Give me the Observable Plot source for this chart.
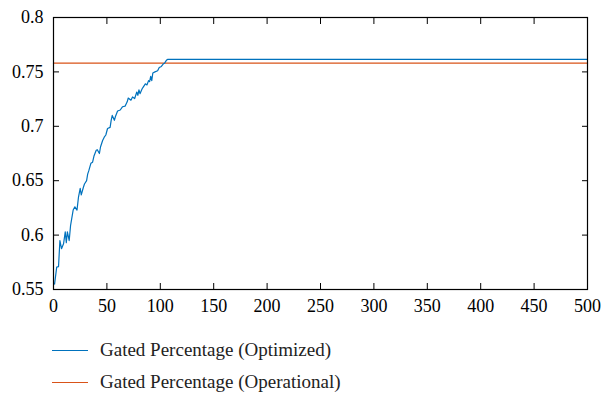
<!DOCTYPE html>
<html><head><meta charset="utf-8">
<script src="https://cdn.jsdelivr.net/npm/d3@7"></script>
<script src="https://cdn.jsdelivr.net/npm/@observablehq/plot@0.6"></script>
</head><body style="margin:0">
<div id="chart"></div>
<div id="legend" style="position:relative;height:78px;font-family:'Liberation Serif','DejaVu Serif',serif;font-size:19px;color:#222"></div>
<script>
const iterOpt = [1,3,4.7,6,7.5,9.4,11,12,13,14.7,16,18.4,20,22,23.4,25,26,28,29,31,32,33,35,36.6,38,40,41,43,44,46,47.5,49,50.6,53,54,55,57,58,60,62.5,64.7,67,69,70,72.5,74,76,78,79,80,81,83,84,86,87.5,89,90,91,92,93,95,97.5,99,101,103,104,106,107,500];
const valOpt = [0.555,0.5705,0.571,0.595,0.5875,0.592,0.603,0.593,0.603,0.595,0.609,0.623,0.626,0.623,0.635,0.643,0.637,0.644,0.647,0.65,0.656,0.659,0.666,0.667,0.673,0.678,0.6785,0.675,0.681,0.687,0.69,0.692,0.698,0.699,0.7055,0.71,0.7055,0.709,0.714,0.715,0.718,0.7185,0.7225,0.726,0.724,0.727,0.7255,0.7315,0.7285,0.7335,0.73,0.7345,0.736,0.739,0.738,0.742,0.741,0.746,0.742,0.749,0.75,0.751,0.754,0.755,0.7575,0.758,0.761,0.7615,0.7615];
const iterOper = [0, 500];
const valOper = [0.758, 0.758];
const xTicks = [0,50,100,150,200,250,300,350,400,450,500];
const yTicks = [0.55,0.6,0.65,0.7,0.75,0.8];
const yTickLabels = ["0.55","0.6","0.65","0.7","0.75","0.8"];
const seriesNames = ["Gated Percentage (Optimized)", "Gated Percentage (Operational)"];
const seriesColors = ["#0072BD", "#D95319"];

const opt = iterOpt.map((x, i) => ({x, y: valOpt[i]}));
const oper = iterOper.map((x, i) => ({x, y: valOper[i]}));

const chart = Plot.plot({
  width: 603,
  height: 322,
  marginLeft: 53,
  marginRight: 16,
  marginTop: 17,
  marginBottom: 33,
  style: {fontFamily: "'Liberation Serif', 'DejaVu Serif', serif", fontSize: "18px"},
  x: {domain: [0, 500]},
  y: {domain: [0.55, 0.8]},
  marks: [
    Plot.line(oper, {x: "x", y: "y", stroke: seriesColors[1], strokeWidth: 1.2}),
    Plot.line(opt, {x: "x", y: "y", stroke: seriesColors[0], strokeWidth: 1.2}),
    Plot.axisX({anchor: "bottom", ticks: xTicks, tickSize: -6, tickPadding: 16, label: null, fontSize: 18}),
    Plot.axisX({anchor: "top", ticks: xTicks, tickSize: -6, tickFormat: () => "", label: null}),
    Plot.axisY({anchor: "left", ticks: yTicks, tickFormat: (d) => yTickLabels[yTicks.indexOf(d)], tickSize: -6, tickPadding: 16, label: null, fontSize: 18}),
    Plot.axisY({anchor: "right", ticks: yTicks, tickSize: -6, tickFormat: () => "", label: null}),
    Plot.frame({stroke: "#000", strokeWidth: 1.2})
  ]
});
document.getElementById("chart").appendChild(chart);

const legend = document.getElementById("legend");
seriesNames.forEach((name, i) => {
  const row = document.createElement("div");
  row.style.cssText = "position:absolute;left:52px;top:" + (17 + i * 32) + "px;display:flex;align-items:center";
  const sw = document.createElement("span");
  sw.style.cssText = "display:inline-block;width:36px;height:0;border-top:1.3px solid " + seriesColors[i] + ";margin-right:12px";
  const t = document.createElement("span");
  t.textContent = name;
  row.appendChild(sw);
  row.appendChild(t);
  legend.appendChild(row);
});
</script>
</body></html>
